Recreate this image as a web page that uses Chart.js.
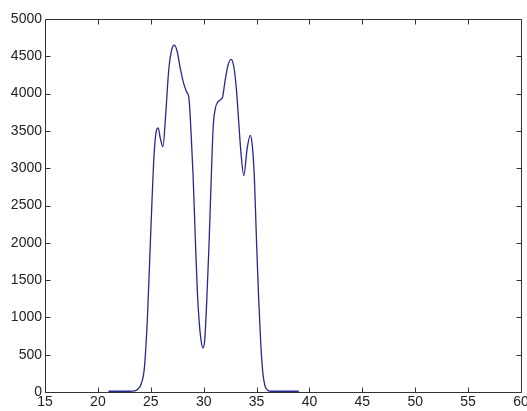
<!DOCTYPE html>
<html>
<head>
<meta charset="utf-8">
<script src="https://cdn.jsdelivr.net/npm/chart.js@4/dist/chart.umd.min.js"></script>
<style>
	html, body { margin: 0; padding: 0; background: #fff; }
	#wrap { width: 527px; height: 411px; }
</style>
</head>
<body>
<div id="wrap"><canvas id="chart"></canvas></div>
<script>
const xValues = [21, 22, 23, 23.5, 23.8, 24.1, 24.4, 24.7, 25.0, 25.3, 25.5, 25.7, 25.9, 26.15, 26.4, 26.7, 27.0, 27.25, 27.5, 27.8, 28.1, 28.4, 28.6, 28.8, 29.0, 29.2, 29.4, 29.6, 29.8, 29.95, 30.1, 30.3, 30.5, 30.7, 30.9, 31.1, 31.3, 31.6, 31.8, 32.0, 32.3, 32.6, 32.85, 33.1, 33.3, 33.5, 33.8, 34.1, 34.4, 34.6, 34.8, 35.0, 35.2, 35.4, 35.6, 35.8, 36.0, 36.3, 37, 38, 39];
const yValues = [10, 10, 10, 15, 40, 110, 330, 1050, 2150, 3150, 3480, 3540, 3400, 3290, 3700, 4320, 4600, 4650, 4560, 4330, 4140, 4020, 3950, 3500, 2900, 2100, 1350, 900, 650, 590, 700, 1250, 1950, 2800, 3550, 3800, 3880, 3920, 3960, 4150, 4380, 4460, 4360, 4050, 3650, 3250, 2900, 3250, 3440, 3300, 2850, 2000, 1250, 640, 250, 80, 30, 10, 10, 10, 10];
const xTicks = [15, 20, 25, 30, 35, 40, 45, 50, 55, 60];
const yTicks = [0, 500, 1000, 1500, 2000, 2500, 3000, 3500, 4000, 4500, 5000];

const points = xValues.map((x, i) => ({ x: x, y: yValues[i] }));

// matlab style box with inward ticks on all four sides
const axesBox = {
	id: "axesBox",
	afterDatasetsDraw(chart) {
		const c = chart.ctx;
		const a = chart.chartArea;
		const sx = chart.scales.x, sy = chart.scales.y;
		const t = 5;
		const L = Math.round(a.left) + 0.5, R = Math.round(a.right) + 0.5;
		const T = Math.round(a.top) + 0.5, B = Math.round(a.bottom) + 0.5;
		c.save();
		c.strokeStyle = "#333";
		c.lineWidth = 1;
		c.beginPath();
		c.moveTo(L, T); c.lineTo(R, T); c.lineTo(R, B); c.lineTo(L, B); c.closePath();
		for (const v of xTicks) {
			const px = Math.round(sx.getPixelForValue(v)) + 0.5;
			c.moveTo(px, B); c.lineTo(px, B - t);
			c.moveTo(px, T); c.lineTo(px, T + t);
		}
		for (const v of yTicks) {
			const py = Math.round(sy.getPixelForValue(v)) + 0.5;
			c.moveTo(L, py); c.lineTo(L + t, py);
			c.moveTo(R, py); c.lineTo(R - t, py);
		}
		c.stroke();
		c.restore();
	},
};

const font = { family: "'Liberation Sans', Arial, sans-serif", size: 14 };

new Chart(document.getElementById("chart"), {
	type: "line",
	data: {
		datasets: [{
			data: points,
			borderColor: "rgb(40, 40, 145)",
			borderWidth: 1.3,
			pointRadius: 0,
			fill: false,
			cubicInterpolationMode: "monotone",
		}],
	},
	options: {
		responsive: true,
		maintainAspectRatio: false,
		animation: false,
		layout: { padding: { top: 19, right: 6, left: 0, bottom: 0 } },
		plugins: { legend: { display: false }, tooltip: { enabled: false } },
		scales: {
			x: {
				type: "linear",
				min: 15,
				max: 60,
				afterBuildTicks: s => { s.ticks = xTicks.map(v => ({ value: v })); },
				afterFit: s => { s.height = 19; s.paddingRight = 0; s.paddingLeft = 0; },
				grid: { display: false, drawTicks: false },
				border: { display: false },
				ticks: { font: font, color: "#222", padding: 2, maxRotation: 0, autoSkip: false, callback: v => String(v) },
			},
			y: {
				min: 0,
				max: 5000,
				afterBuildTicks: s => { s.ticks = yTicks.map(v => ({ value: v })); },
				afterFit: s => { s.width = 45; s.paddingTop = 0; s.paddingBottom = 0; },
				grid: { display: false, drawTicks: false },
				border: { display: false },
				ticks: { font: font, color: "#222", padding: 3, callback: v => String(v) },
			},
		},
	},
	plugins: [axesBox],
});
</script>
</body>
</html>
